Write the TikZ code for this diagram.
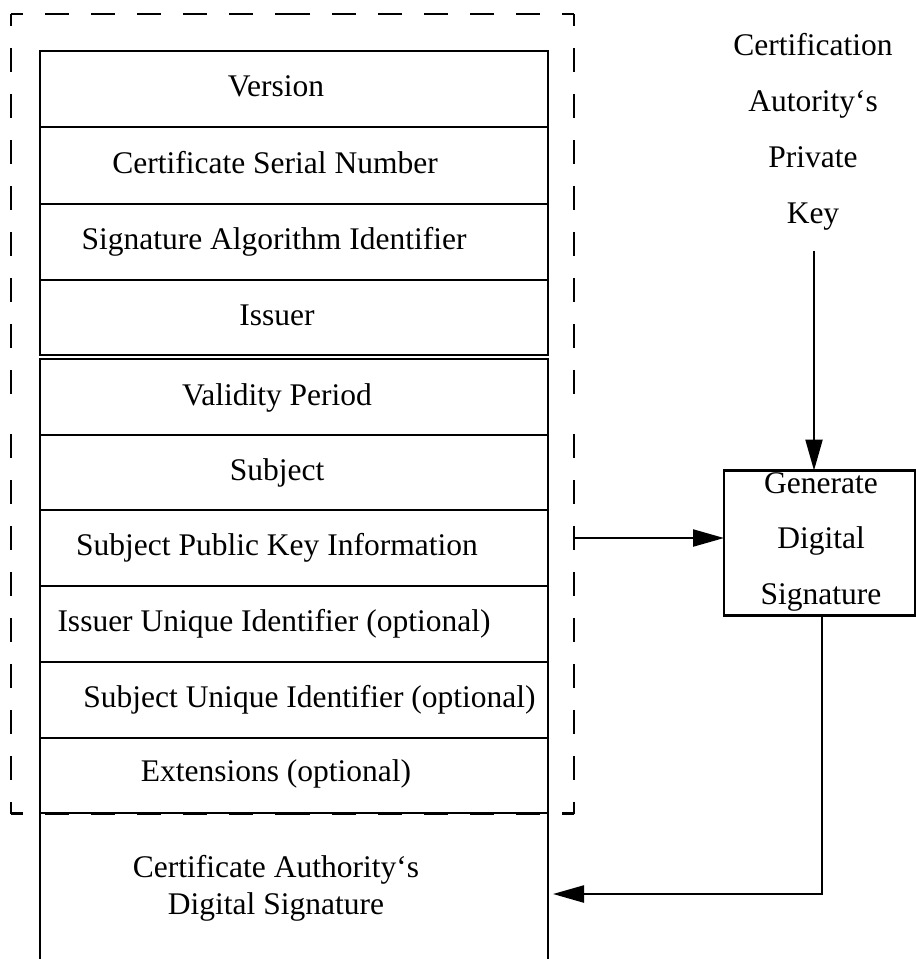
\documentclass[tikz,border=0pt]{standalone}
\usepackage{fontspec}
\setmainfont{Liberation Serif}
\usetikzlibrary{arrows.meta}
\begin{document}
\begin{tikzpicture}[x=1pt,y=-1pt,
  rowbox/.style={draw, line width=2.6pt, minimum width=508pt, inner sep=0pt, outer sep=0pt},
  lbl/.style={font=\fontsize{31.5}{36}\selectfont, inner sep=0pt, anchor=base},
  dashline/.style={line width=2.3pt, dash pattern=on 24pt off 22pt, dash phase=12pt},
  arr/.style={line width=2.3pt, -{Triangle[length=31pt,width=17pt]}},
  frame/.style={line width=2.6pt}]
\useasboundingbox (0,0) rectangle (916,959);

% dashed outline
\coordinate (dTL) at (11,14);
\coordinate (dTR) at (574,14);
\coordinate (dBR) at (574,813.5);
\coordinate (dBL) at (11,813.5);
\coordinate (mT) at (292.5,14);
\coordinate (mR) at (574,414);
\coordinate (mB) at (292.5,813.5);
\coordinate (mL) at (11,414);
\draw[dashline] (dTL) -- (mT);
\draw[dashline] (dTR) -- (mT);
\draw[dashline] (dTR) -- (mR);
\draw[dashline] (dBR) -- (mR);
\draw[dashline] (dBR) -- (mB);
\draw[dashline] (dBL) -- (mB);
\draw[dashline] (dBL) -- (mL);
\draw[dashline] (dTL) -- (mL);

% certificate rows
\node[rowbox, minimum height=76pt] (version)  at (294,89) {};
\node[rowbox, minimum height=77pt] (serial)   at (294,165.5) {};
\node[rowbox, minimum height=76pt] (sigalg)   at (294,242) {};
\node[rowbox, minimum height=75pt] (issuer)   at (294,317.5) {};
\node[rowbox, minimum height=76pt] (validity) at (294,397) {};
\node[rowbox, minimum height=75pt] (subject)  at (294,472.5) {};
\node[rowbox, minimum height=76pt] (spki)     at (294,548) {};
\node[rowbox, minimum height=76pt] (iui)      at (294,624) {};
\node[rowbox, minimum height=76pt] (sui)      at (294,700) {};
\node[rowbox, minimum height=75pt] (ext)      at (294,775.5) {};

\node[lbl] (tversion)  at (276,96) {Version};
\node[lbl] (tserial)   at (275,173) {Certificate Serial Number};
\node[lbl] (tsigalg)   at (274,249) {Signature Algorithm Identifier};
\node[lbl] (tissuer)   at (277,325) {Issuer};
\node[lbl] (tvalidity) at (277,405) {Validity Period};
\node[lbl] (tsubject)  at (277,480) {Subject};
\node[lbl] (tspki)     at (277,555) {Subject Public Key Information};
\node[lbl] (tiui)      at (274,631) {Issuer Unique Identifier (optional)};
\node[lbl] (tsui)      at (309.5,707) {Subject Unique Identifier (optional)};
\node[lbl] (text)      at (276,781) {Extensions (optional)};

% CA signature box (open at the bottom edge)
\node[inner sep=0pt, outer sep=0pt, minimum width=508pt, minimum height=146pt] (ca) at (294,886) {};
\draw[frame] (ca.south west) -- (ca.north west) -- (ca.north east) -- (ca.south east);
\node[lbl, align=center, font=\fontsize{31.5}{37}\selectfont] (tca) at (276,914)
  {Certificate Authority‘s\\Digital Signature};

% right side
\node[lbl, align=center, font=\fontsize{31.5}{55.7}\selectfont] (tkey) at (813,223)
  {Certification\\Autority‘s\\Private\\Key};
\node[draw, line width=2.6pt, inner sep=0pt, outer sep=0pt, minimum width=191pt, minimum height=145pt] (gen) at (819.5,543) {};
\node[lbl, align=center, font=\fontsize{31.5}{55.5}\selectfont] (tgen) at (821,604)
  {Generate\\Digital\\Signature};

% connectors
\coordinate (tap) at (574,538);
\coordinate (keyend) at (814,251);
\coordinate (gx) at (822,0);
\coordinate (caIn) at (553,894);
\draw[arr] (tap) -- (tap -| gen.west);
\draw[arr] (keyend) -- (keyend |- gen.north);
\draw[arr] (gx |- gen.south) |- (caIn);
\end{tikzpicture}
\end{document}
